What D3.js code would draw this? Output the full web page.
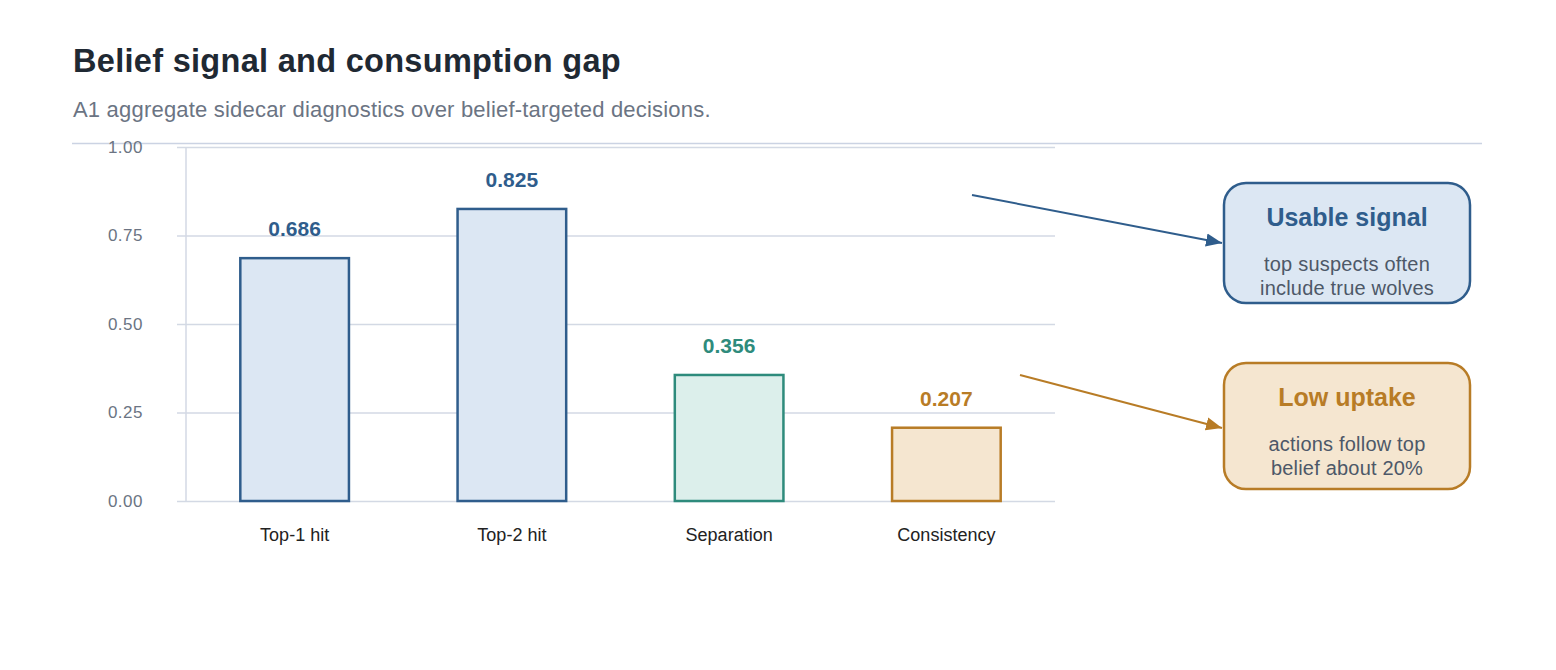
<!DOCTYPE html>
<html>
<head>
<meta charset="utf-8">
<script src="https://cdn.jsdelivr.net/npm/d3@7"></script>
<style>
  body { margin: 0; background: #fff; font-family: "Liberation Sans", Arial, sans-serif; }
</style>
</head>
<body>
<div id="chart"></div>
<script>
"use strict"

// data
const categories = ["Top-1 hit", "Top-2 hit", "Separation", "Consistency"];
const values = [0.686, 0.825, 0.356, 0.207];
const groups = ["signal", "signal", "separation", "uptake"];
const yTicks = [0, 0.25, 0.5, 0.75, 1.0];
const notes = [
  {key: "signal", title: "Usable signal", lines: ["top suspects often", "include true wolves"]},
  {key: "uptake", title: "Low uptake", lines: ["actions follow top", "belief about 20%"]}
];

// palette per group
const palette = {
  signal:     {stroke: "#2f5d8c", fill: "#dce7f3", text: "#2f5d8c"},
  separation: {stroke: "#2e8b7c", fill: "#dcefeb", text: "#2e8b7c"},
  uptake:     {stroke: "#b87c26", fill: "#f5e6d0", text: "#b87c26"}
};

const size = {width: 1556, height: 670};
const plot = {left: 186, right: 1055, top: 147, bottom: 501};

const svg = d3.select("#chart").append("svg")
    .attr("width", size.width)
    .attr("height", size.height);

// header
svg.append("text")
    .attr("x", 73).attr("y", 72)
    .attr("font-size", 32.5).attr("font-weight", "bold")
    .attr("letter-spacing", 0.3)
    .attr("fill", "#1f2933")
    .text("Belief signal and consumption gap");
svg.append("text")
    .attr("x", 73).attr("y", 117)
    .attr("font-size", 22)
    .attr("letter-spacing", 0.2)
    .attr("fill", "#6b7483")
    .text("A1 aggregate sidecar diagnostics over belief-targeted decisions.");
svg.append("line")
    .attr("x1", 72).attr("x2", 1482)
    .attr("y1", 143.5).attr("y2", 143.5)
    .attr("stroke", "#cbd3e3").attr("stroke-width", 1.5);

// scales
const x = d3.scaleBand()
    .domain(categories)
    .range([plot.left, plot.right])
    .paddingInner(0.5)
    .paddingOuter(0.25);
const y = d3.scaleLinear()
    .domain([0, 1])
    .range([plot.bottom, plot.top]);

// gridlines + y axis
const yAxis = svg.append("g")
    .attr("transform", "translate(" + plot.left + ",0)")
    .call(d3.axisLeft(y)
      .tickValues(yTicks)
      .tickFormat(d3.format(".2f"))
      .tickSize(-(plot.right - plot.left))
      .tickPadding(43));
yAxis.select(".domain").remove();
yAxis.selectAll(".tick line")
    .attr("x1", -9)
    .attr("stroke", "#d3d9e4").attr("stroke-width", 1.5);
yAxis.selectAll(".tick text")
    .attr("font-family", "Liberation Sans, Arial, sans-serif")
    .attr("font-size", 17).attr("letter-spacing", 0.5)
    .attr("fill", "#6b7483");
svg.append("line")
    .attr("x1", plot.left).attr("x2", plot.left)
    .attr("y1", plot.top).attr("y2", plot.bottom)
    .attr("stroke", "#d3d9e4").attr("stroke-width", 1.5);

// bars
const bars = svg.append("g").selectAll(".bar")
  .data(categories.map(function(c, i) { return {cat: c, value: values[i], group: groups[i]}; }))
  .enter().append("g").attr("class", "bar");
bars.append("rect")
    .attr("x", function(d) { return x(d.cat); })
    .attr("y", function(d) { return y(d.value); })
    .attr("width", x.bandwidth())
    .attr("height", function(d) { return y(0) - y(d.value); })
    .attr("fill", function(d) { return palette[d.group].fill; })
    .attr("stroke", function(d) { return palette[d.group].stroke; })
    .attr("stroke-width", 2.5);
bars.append("text")
    .attr("x", function(d) { return x(d.cat) + x.bandwidth() / 2; })
    .attr("y", function(d) { return y(d.value) - 22; })
    .attr("text-anchor", "middle")
    .attr("font-size", 21).attr("font-weight", "bold")
    .attr("fill", function(d) { return palette[d.group].text; })
    .text(function(d) { return d3.format(".3f")(d.value); });

// x labels
const xAxis = svg.append("g")
    .attr("transform", "translate(0," + plot.bottom + ")")
    .call(d3.axisBottom(x).tickSize(0).tickPadding(27));
xAxis.select(".domain").remove();
xAxis.selectAll(".tick text")
    .attr("font-family", "Liberation Sans, Arial, sans-serif")
    .attr("font-size", 18).attr("fill", "#222");

// arrowheads
const defs = svg.append("defs");
notes.forEach(function(n) {
  defs.append("marker")
      .attr("id", "arrow-" + n.key)
      .attr("viewBox", "0 0 12 10")
      .attr("refX", 12).attr("refY", 5)
      .attr("markerWidth", 8).attr("markerHeight", 7)
      .attr("markerUnits", "strokeWidth")
      .attr("orient", "auto")
    .append("path")
      .attr("d", "M0,0 L12,5 L0,10 Z")
      .attr("fill", palette[n.key].stroke);
});

// annotation boxes (layout only)
const boxLayout = {
  signal: {x: 1224, y: 183, h: 120, from: [972, 195], to: [1222, 243]},
  uptake: {x: 1224, y: 363, h: 126, from: [1020, 375], to: [1222, 428]}
};
const boxWidth = 246;

notes.forEach(function(n) {
  const b = boxLayout[n.key], c = palette[n.key];
  svg.append("line")
      .attr("x1", b.from[0]).attr("y1", b.from[1])
      .attr("x2", b.to[0]).attr("y2", b.to[1])
      .attr("stroke", c.stroke).attr("stroke-width", 2)
      .attr("marker-end", "url(#arrow-" + n.key + ")");
  svg.append("rect")
      .attr("x", b.x).attr("y", b.y)
      .attr("width", boxWidth).attr("height", b.h)
      .attr("rx", 22).attr("ry", 22)
      .attr("fill", c.fill).attr("stroke", c.stroke).attr("stroke-width", 2.5);
  const cx = b.x + boxWidth / 2;
  svg.append("text")
      .attr("x", cx).attr("y", b.y + 43)
      .attr("text-anchor", "middle")
      .attr("font-size", 25).attr("font-weight", "bold")
      .attr("fill", c.text)
      .text(n.title);
  n.lines.forEach(function(line, i) {
    svg.append("text")
        .attr("x", cx).attr("y", b.y + 88 + i * 24)
        .attr("text-anchor", "middle")
        .attr("font-size", 20)
        .attr("letter-spacing", 0.2)
        .attr("fill", "#4d5868")
        .text(line);
  });
});
</script>
</body>
</html>
